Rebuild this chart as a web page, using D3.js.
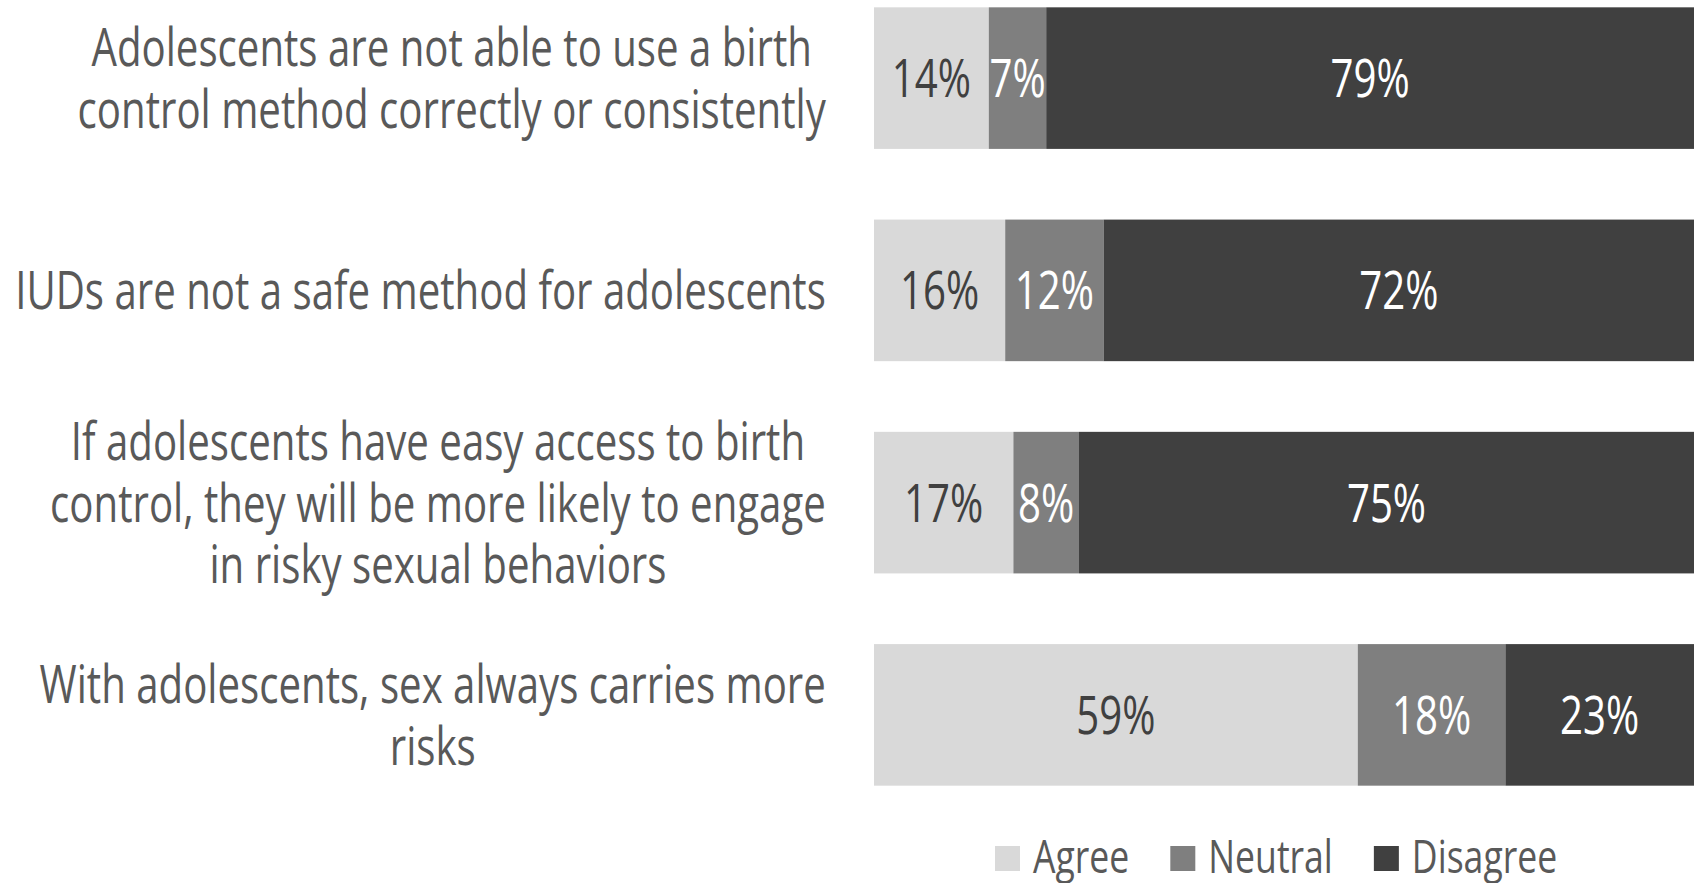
<!DOCTYPE html>
<html>
<head>
<meta charset="utf-8">
<script src="https://cdn.jsdelivr.net/npm/d3@7"></script>
<style>
  html, body { margin: 0; padding: 0; background: #ffffff; }
  svg { display: block; }
  text { font-family: "Open Sans", "Noto Sans", sans-serif; font-weight: 400; }
</style>
</head>
<body>
<svg id="chart" width="1694" height="883"></svg>
<script>
// Survey statements (each entry is one statement split into its display lines)
const categories = [
  ["Adolescents are not able to use a birth", "control method correctly or consistently"],
  ["IUDs are not a safe method for adolescents"],
  ["If adolescents have easy access to birth", "control, they will be more likely to engage", "in risky sexual behaviors"],
  ["With adolescents, sex always carries more", "risks"]
];
const seriesNames = ["Agree", "Neutral", "Disagree"];
const agree    = [14, 16, 17, 59];
const neutral  = [7, 12, 8, 18];
const disagree = [79, 72, 75, 23];

const colors = { Agree: "#d9d9d9", Neutral: "#7f7f7f", Disagree: "#404040" };
const labelColors = { Agree: "#404040", Neutral: "#ffffff", Disagree: "#ffffff" };

const W = 1694, H = 883;
const svg = d3.select("#chart");

const fontSize = 53;
const legendFontSize = 46;
const lineGap = 61.5;
const capHalf = 19;

// Horizontal condensing of all text, derived from the width the widest label occupies
const probe = svg.append("text").attr("font-size", fontSize).text(categories[1][0]);
const squeeze = 811 / probe.node().getComputedTextLength();
probe.remove();

const x = d3.scaleLinear().domain([0, 100]).range([874, 1694]);
const y = d3.scaleBand()
  .domain(d3.range(categories.length))
  .range([0, 793])
  .paddingInner(0.333)
  .paddingOuter(0.0345);

const rows = categories.map((c, i) => ({ i, Agree: agree[i], Neutral: neutral[i], Disagree: disagree[i] }));
const stacked = d3.stack().keys(seriesNames)(rows);

// Stacked bars
const layers = svg.append("g").selectAll("g")
  .data(stacked)
  .join("g")
  .attr("fill", d => colors[d.key]);

layers.selectAll("rect")
  .data(d => d.map(s => ({ key: d.key, s })))
  .join("rect")
  .attr("x", d => x(d.s[0]))
  .attr("width", d => x(d.s[1]) - x(d.s[0]))
  .attr("y", d => y(d.s.data.i))
  .attr("height", y.bandwidth());

// Value labels centred in each segment
layers.selectAll("text")
  .data(d => d.map(s => ({ key: d.key, s })))
  .join("text")
  .attr("text-anchor", "middle")
  .attr("font-size", fontSize)
  .attr("fill", d => labelColors[d.key])
  .attr("transform", d => {
    const cx = (x(d.s[0]) + x(d.s[1])) / 2;
    const cy = y(d.s.data.i) + y.bandwidth() / 2 + capHalf;
    return `translate(${cx},${cy}) scale(${squeeze},1)`;
  })
  .text(d => (d.s[1] - d.s[0]) + "%");

// Category labels: lines centred within a block whose right edge sits left of the bars
const labelRight = 826;
const catG = svg.append("g").attr("fill", "#595959");
categories.forEach((lines, i) => {
  const g = catG.append("g");
  const texts = lines.map(l => g.append("text").attr("font-size", fontSize).text(l));
  const maxW = d3.max(texts, t => t.node().getComputedTextLength()) * squeeze;
  const cx = labelRight - maxW / 2;
  const cy = y(i) + y.bandwidth() / 2;
  const firstBase = cy - (lines.length - 1) * lineGap / 2 + capHalf;
  texts.forEach((t, j) => {
    t.attr("text-anchor", "middle")
     .attr("transform", `translate(${cx},${firstBase + j * lineGap}) scale(${squeeze},1)`);
  });
});

// Legend
const legend = svg.append("g");
const sq = 25, sqGap = 13, itemGap = 41;
const legendSqueeze = squeeze * 1.02;
let lx = 995;
const legendMid = 858.5;
seriesNames.forEach(name => {
  legend.append("rect")
    .attr("x", lx).attr("y", legendMid - sq / 2)
    .attr("width", sq).attr("height", sq)
    .attr("fill", colors[name]);
  const t = legend.append("text")
    .attr("font-size", legendFontSize)
    .attr("fill", "#595959")
    .attr("transform", `translate(${lx + sq + sqGap},873) scale(${legendSqueeze},1)`)
    .text(name);
  lx += sq + sqGap + t.node().getComputedTextLength() * legendSqueeze + itemGap;
});
</script>
</body>
</html>
